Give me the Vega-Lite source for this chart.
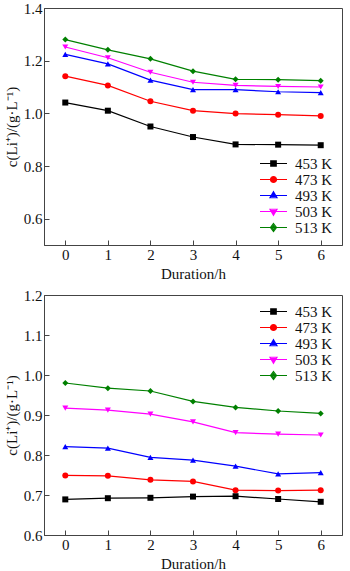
{
  "$schema": "https://vega.github.io/schema/vega-lite/v6.json",
  "padding": {"left": 3, "top": 0, "right": 2, "bottom": 0},
  "spacing": 5,
  "config": {
    "font": "Liberation Serif",
    "view": {"stroke": "#444", "strokeWidth": 1},
    "axis": {"labelFont": "Liberation Serif", "labelFontSize": 15, "titleFont": "Liberation Serif", "titleFontSize": 15, "titleFontWeight": "normal", "labelColor": "#111", "titleColor": "#111", "domainColor": "#444", "tickColor": "#444", "tickSize": -5, "grid": false, "labelPadding": 7, "titlePadding": 4},
    "legend": {"labelFont": "Liberation Serif", "labelFontSize": 15, "labelColor": "#111", "rowPadding": 0, "labelOffset": 14, "symbolSize": 100, "symbolStrokeWidth": 1.2, "title": null},
    "point": {"filled": true, "opacity": 1, "size": 36},
    "line": {"strokeWidth": 1.2}
  },
  "resolve": {"scale": {"color": "independent", "shape": "independent"}, "legend": {"color": "independent", "shape": "independent"}},
  "vconcat": [
    {
      "width": 298,
      "height": 237,
      "data": {"values": [
        {"t": 0, "c": 1.041, "T": "453 K"}, {"t": 1, "c": 1.010, "T": "453 K"}, {"t": 2, "c": 0.950, "T": "453 K"}, {"t": 3, "c": 0.910, "T": "453 K"}, {"t": 4, "c": 0.882, "T": "453 K"}, {"t": 5, "c": 0.881, "T": "453 K"}, {"t": 6, "c": 0.879, "T": "453 K"},
        {"t": 0, "c": 1.141, "T": "473 K"}, {"t": 1, "c": 1.106, "T": "473 K"}, {"t": 2, "c": 1.046, "T": "473 K"}, {"t": 3, "c": 1.010, "T": "473 K"}, {"t": 4, "c": 0.999, "T": "473 K"}, {"t": 5, "c": 0.995, "T": "473 K"}, {"t": 6, "c": 0.990, "T": "473 K"},
        {"t": 0, "c": 1.224, "T": "493 K"}, {"t": 1, "c": 1.188, "T": "493 K"}, {"t": 2, "c": 1.126, "T": "493 K"}, {"t": 3, "c": 1.090, "T": "493 K"}, {"t": 4, "c": 1.090, "T": "493 K"}, {"t": 5, "c": 1.082, "T": "493 K"}, {"t": 6, "c": 1.079, "T": "493 K"},
        {"t": 0, "c": 1.252, "T": "503 K"}, {"t": 1, "c": 1.211, "T": "503 K"}, {"t": 2, "c": 1.156, "T": "503 K"}, {"t": 3, "c": 1.118, "T": "503 K"}, {"t": 4, "c": 1.106, "T": "503 K"}, {"t": 5, "c": 1.102, "T": "503 K"}, {"t": 6, "c": 1.100, "T": "503 K"},
        {"t": 0, "c": 1.280, "T": "513 K"}, {"t": 1, "c": 1.241, "T": "513 K"}, {"t": 2, "c": 1.207, "T": "513 K"}, {"t": 3, "c": 1.160, "T": "513 K"}, {"t": 4, "c": 1.129, "T": "513 K"}, {"t": 5, "c": 1.128, "T": "513 K"}, {"t": 6, "c": 1.124, "T": "513 K"}
      ]},
      "encoding": {
        "x": {"field": "t", "type": "quantitative", "scale": {"domain": [-0.5, 6.5], "nice": false, "zero": false}, "axis": {"values": [0, 1, 2, 3, 4, 5, 6], "title": "Duration/h"}},
        "y": {"field": "c", "type": "quantitative", "scale": {"domain": [0.5, 1.4], "nice": false, "zero": false}, "axis": {"values": [0.6, 0.8, 1.0, 1.2, 1.4], "format": ".1f", "title": "c(Li⁺)/(g·L⁻¹)"}}
      },
      "layer": [
        {"transform": [{"filter": "datum.T === '453 K'"}], "mark": {"type": "line", "color": "#000000"}},
        {"transform": [{"filter": "datum.T === '473 K'"}], "mark": {"type": "line", "color": "#ff0000"}},
        {"transform": [{"filter": "datum.T === '493 K'"}], "mark": {"type": "line", "color": "#0000ff"}},
        {"transform": [{"filter": "datum.T === '503 K'"}], "mark": {"type": "line", "color": "#ff00ff"}},
        {"transform": [{"filter": "datum.T === '513 K'"}], "mark": {"type": "line", "color": "#008000"}},
        {"transform": [{"filter": "datum.T === '453 K'"}], "mark": {"type": "point", "shape": "square", "color": "#000000"}},
        {"transform": [{"filter": "datum.T === '473 K'"}], "mark": {"type": "point", "shape": "circle", "color": "#ff0000"}},
        {"transform": [{"filter": "datum.T === '493 K'"}], "mark": {"type": "point", "shape": "triangle-up", "color": "#0000ff"}},
        {"transform": [{"filter": "datum.T === '503 K'"}], "mark": {"type": "point", "shape": "triangle-down", "color": "#ff00ff"}},
        {"transform": [{"filter": "datum.T === '513 K'"}], "mark": {"type": "point", "shape": "diamond", "color": "#008000"}},
        {
          "transform": [{"filter": "false"}],
          "mark": {"type": "point", "filled": false, "size": 100, "strokeWidth": 1.2, "opacity": 1},
          "encoding": {
            "color": {"field": "T", "type": "nominal", "scale": {"domain": ["453 K", "473 K", "493 K", "503 K", "513 K"], "range": ["#000000", "#ff0000", "#0000ff", "#ff00ff", "#008000"]}, "legend": {"orient": "bottom-right", "offset": 9}},
            "shape": {"field": "T", "type": "nominal", "scale": {"domain": ["453 K", "473 K", "493 K", "503 K", "513 K"], "range": ["M-2.7,0H2.7M-0.55,-0.55H0.55V0.55H-0.55ZM-0.35,-0.35H0.35V0.35H-0.35ZM-0.15,-0.15H0.15V0.15H-0.15Z", "M-2.7,0H2.7M0.6,0A0.6,0.6 0 1,1 -0.6,0A0.6,0.6 0 1,1 0.6,0ZM0.38,0A0.38,0.38 0 1,1 -0.38,0A0.38,0.38 0 1,1 0.38,0ZM0.16,0A0.16,0.16 0 1,1 -0.16,0A0.16,0.16 0 1,1 0.16,0Z", "M-2.7,0H2.7M0,-0.75L0.7,0.45H-0.7ZM0,-0.35L0.3,0.2H-0.3Z", "M-2.7,0H2.7M0,0.75L0.7,-0.45H-0.7ZM0,0.35L0.3,-0.2H-0.3Z", "M-2.7,0H2.7M0,-0.8L0.6,0L0,0.8L-0.6,0ZM0,-0.4L0.3,0L0,0.4L-0.3,0Z"]}, "legend": {"orient": "bottom-right", "offset": 9}}
          }
        },
        {
          "data": {"values": [{"label": "(a)"}]},
          "mark": {"type": "text", "align": "left", "baseline": "middle", "fontSize": 15, "font": "Liberation Serif", "color": "#111"},
          "encoding": {"x": {"datum": -0.36}, "y": {"datum": 1.369}, "text": {"field": "label"}}
        }
      ]
    },
    {
      "width": 298,
      "height": 240,
      "data": {"values": [
        {"t": 0, "c": 0.689, "T": "453 K"}, {"t": 1, "c": 0.692, "T": "453 K"}, {"t": 2, "c": 0.693, "T": "453 K"}, {"t": 3, "c": 0.696, "T": "453 K"}, {"t": 4, "c": 0.697, "T": "453 K"}, {"t": 5, "c": 0.690, "T": "453 K"}, {"t": 6, "c": 0.683, "T": "453 K"},
        {"t": 0, "c": 0.749, "T": "473 K"}, {"t": 1, "c": 0.748, "T": "473 K"}, {"t": 2, "c": 0.738, "T": "473 K"}, {"t": 3, "c": 0.734, "T": "473 K"}, {"t": 4, "c": 0.712, "T": "473 K"}, {"t": 5, "c": 0.711, "T": "473 K"}, {"t": 6, "c": 0.712, "T": "473 K"},
        {"t": 0, "c": 0.821, "T": "493 K"}, {"t": 1, "c": 0.817, "T": "493 K"}, {"t": 2, "c": 0.794, "T": "493 K"}, {"t": 3, "c": 0.787, "T": "493 K"}, {"t": 4, "c": 0.772, "T": "493 K"}, {"t": 5, "c": 0.753, "T": "493 K"}, {"t": 6, "c": 0.756, "T": "493 K"},
        {"t": 0, "c": 0.917, "T": "503 K"}, {"t": 1, "c": 0.912, "T": "503 K"}, {"t": 2, "c": 0.902, "T": "503 K"}, {"t": 3, "c": 0.883, "T": "503 K"}, {"t": 4, "c": 0.856, "T": "503 K"}, {"t": 5, "c": 0.852, "T": "503 K"}, {"t": 6, "c": 0.850, "T": "503 K"},
        {"t": 0, "c": 0.980, "T": "513 K"}, {"t": 1, "c": 0.967, "T": "513 K"}, {"t": 2, "c": 0.960, "T": "513 K"}, {"t": 3, "c": 0.934, "T": "513 K"}, {"t": 4, "c": 0.919, "T": "513 K"}, {"t": 5, "c": 0.910, "T": "513 K"}, {"t": 6, "c": 0.904, "T": "513 K"}
      ]},
      "encoding": {
        "x": {"field": "t", "type": "quantitative", "scale": {"domain": [-0.5, 6.5], "nice": false, "zero": false}, "axis": {"values": [0, 1, 2, 3, 4, 5, 6], "title": "Duration/h"}},
        "y": {"field": "c", "type": "quantitative", "scale": {"domain": [0.6, 1.2], "nice": false, "zero": false}, "axis": {"values": [0.6, 0.7, 0.8, 0.9, 1.0, 1.1, 1.2], "format": ".1f", "title": "c(Li⁺)/(g·L⁻¹)"}}
      },
      "layer": [
        {"transform": [{"filter": "datum.T === '453 K'"}], "mark": {"type": "line", "color": "#000000"}},
        {"transform": [{"filter": "datum.T === '473 K'"}], "mark": {"type": "line", "color": "#ff0000"}},
        {"transform": [{"filter": "datum.T === '493 K'"}], "mark": {"type": "line", "color": "#0000ff"}},
        {"transform": [{"filter": "datum.T === '503 K'"}], "mark": {"type": "line", "color": "#ff00ff"}},
        {"transform": [{"filter": "datum.T === '513 K'"}], "mark": {"type": "line", "color": "#008000"}},
        {"transform": [{"filter": "datum.T === '453 K'"}], "mark": {"type": "point", "shape": "square", "color": "#000000"}},
        {"transform": [{"filter": "datum.T === '473 K'"}], "mark": {"type": "point", "shape": "circle", "color": "#ff0000"}},
        {"transform": [{"filter": "datum.T === '493 K'"}], "mark": {"type": "point", "shape": "triangle-up", "color": "#0000ff"}},
        {"transform": [{"filter": "datum.T === '503 K'"}], "mark": {"type": "point", "shape": "triangle-down", "color": "#ff00ff"}},
        {"transform": [{"filter": "datum.T === '513 K'"}], "mark": {"type": "point", "shape": "diamond", "color": "#008000"}},
        {
          "transform": [{"filter": "false"}],
          "mark": {"type": "point", "filled": false, "size": 100, "strokeWidth": 1.2, "opacity": 1},
          "encoding": {
            "color": {"field": "T", "type": "nominal", "scale": {"domain": ["453 K", "473 K", "493 K", "503 K", "513 K"], "range": ["#000000", "#ff0000", "#0000ff", "#ff00ff", "#008000"]}, "legend": {"orient": "top-right", "offset": 9}},
            "shape": {"field": "T", "type": "nominal", "scale": {"domain": ["453 K", "473 K", "493 K", "503 K", "513 K"], "range": ["M-2.7,0H2.7M-0.55,-0.55H0.55V0.55H-0.55ZM-0.35,-0.35H0.35V0.35H-0.35ZM-0.15,-0.15H0.15V0.15H-0.15Z", "M-2.7,0H2.7M0.6,0A0.6,0.6 0 1,1 -0.6,0A0.6,0.6 0 1,1 0.6,0ZM0.38,0A0.38,0.38 0 1,1 -0.38,0A0.38,0.38 0 1,1 0.38,0ZM0.16,0A0.16,0.16 0 1,1 -0.16,0A0.16,0.16 0 1,1 0.16,0Z", "M-2.7,0H2.7M0,-0.75L0.7,0.45H-0.7ZM0,-0.35L0.3,0.2H-0.3Z", "M-2.7,0H2.7M0,0.75L0.7,-0.45H-0.7ZM0,0.35L0.3,-0.2H-0.3Z", "M-2.7,0H2.7M0,-0.8L0.6,0L0,0.8L-0.6,0ZM0,-0.4L0.3,0L0,0.4L-0.3,0Z"]}, "legend": {"orient": "top-right", "offset": 9}}
          }
        },
        {
          "data": {"values": [{"label": "(b)"}]},
          "mark": {"type": "text", "align": "left", "baseline": "middle", "fontSize": 15, "font": "Liberation Serif", "color": "#111"},
          "encoding": {"x": {"datum": -0.36}, "y": {"datum": 1.167}, "text": {"field": "label"}}
        }
      ]
    }
  ]
}
